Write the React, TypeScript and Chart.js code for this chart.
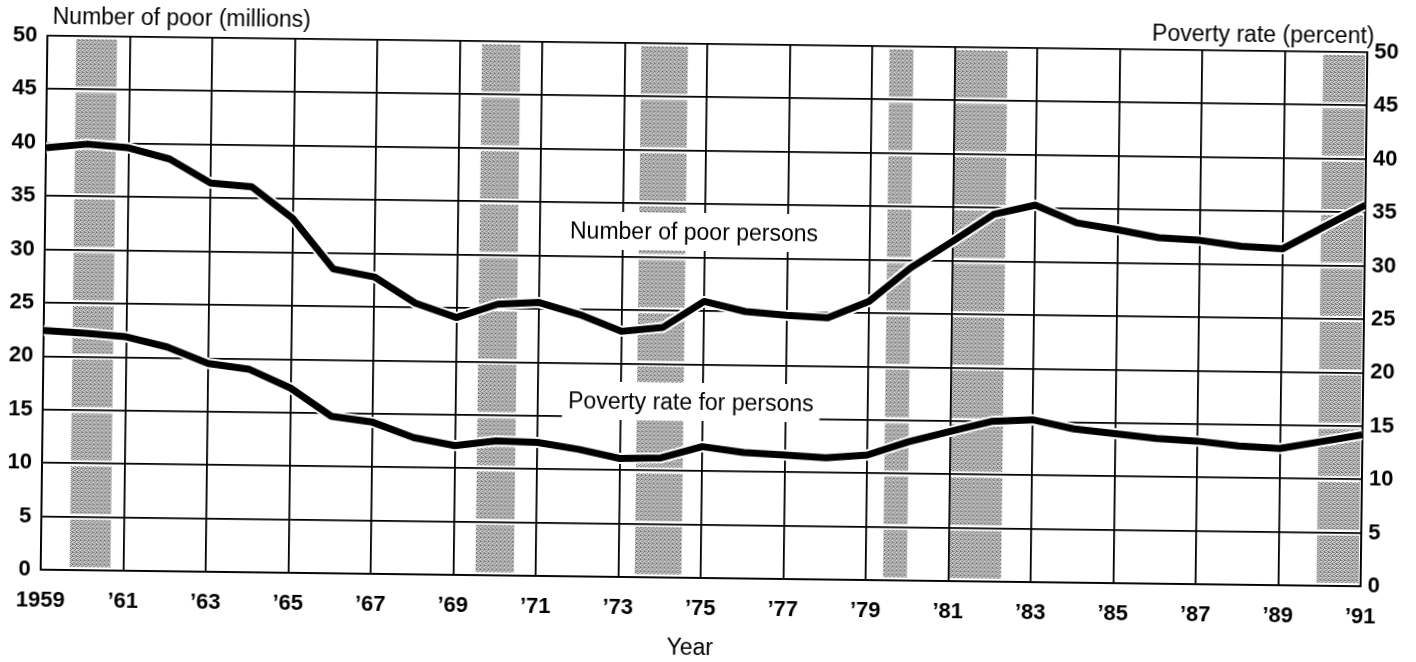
import React, { useEffect, useRef } from 'react';
import { Chart, registerables } from 'chart.js';

Chart.register(...registerables);

// ---------- data ----------
const years = [
  1959, 1960, 1961, 1962, 1963, 1964, 1965, 1966, 1967, 1968, 1969,
  1970, 1971, 1972, 1973, 1974, 1975, 1976, 1977, 1978, 1979,
  1980, 1981, 1982, 1983, 1984, 1985, 1986, 1987, 1988, 1989, 1990, 1991,
];

// Number of poor persons (millions) – left axis
const poorMillions = [
  39.5, 39.9, 39.6, 38.6, 36.4, 36.1, 33.2, 28.5, 27.8, 25.4, 24.1,
  25.4, 25.6, 24.5, 23.0, 23.4, 25.9, 25.0, 24.7, 24.5, 26.1,
  29.3, 31.8, 34.4, 35.3, 33.7, 33.1, 32.4, 32.2, 31.7, 31.5, 33.6, 35.7,
];

// Poverty rate for persons (percent) – right axis
const povertyRatePct = [
  22.4, 22.2, 21.9, 21.0, 19.5, 19.0, 17.3, 14.7, 14.2, 12.8, 12.1,
  12.6, 12.5, 11.9, 11.1, 11.2, 12.3, 11.8, 11.6, 11.4, 11.7,
  13.0, 14.0, 15.0, 15.2, 14.4, 14.0, 13.6, 13.4, 13.0, 12.8, 13.5, 14.2,
];

// Shaded recession periods (start, end) in year units as drawn
const recessionStart = [1959.7, 1969.54, 1973.4, 1979.42, 1981.01, 1989.93];
const recessionEnd = [1960.69, 1970.47, 1974.53, 1980.0, 1982.28, 1991.0];

const xTickLabels = [
  '1959', '\u201961', '\u201963', '\u201965', '\u201967', '\u201969', '\u201971', '\u201973', '\u201975',
  '\u201977', '\u201979', '\u201981', '\u201983', '\u201985', '\u201987', '\u201989', '\u201991',
];
const yTickValues = [0, 5, 10, 15, 20, 25, 30, 35, 40, 45, 50];

const leftTitle = 'Number of poor (millions)';
const rightTitle = 'Poverty rate (percent)';
const poorLabel = 'Number of poor persons';
const rateLabel = 'Poverty rate for persons';
const xTitle = 'Year';

const FONT = "'Liberation Sans', Arial, Helvetica, sans-serif";

function makePattern(): CanvasPattern | string {
  const pc = document.createElement('canvas');
  pc.width = 4;
  pc.height = 4;
  const p = pc.getContext('2d');
  if (!p) return '#b4b4b4';
  p.fillStyle = '#d4d4d4';
  p.fillRect(0, 0, 4, 4);
  p.fillStyle = '#6e6e6e';
  p.fillRect(0, 0, 1, 1);
  p.fillRect(2, 1, 1, 1);
  p.fillRect(1, 2, 1, 1);
  p.fillRect(3, 3, 1, 1);
  p.fillRect(3, 0, 1, 1);
  p.fillStyle = '#959595';
  p.fillRect(2, 3, 1, 1);
  p.fillRect(0, 2, 1, 1);
  p.fillRect(1, 0, 1, 1);
  const pat = p.createPattern(pc, 'repeat');
  return pat || '#b4b4b4';
}

export default function App() {
  const canvasRef = useRef<HTMLCanvasElement | null>(null);

  useEffect(() => {
    document.body.style.margin = '0';
    const canvas = canvasRef.current;
    if (!canvas) return;
    const pattern = makePattern();

    const bandsPlugin = {
      id: 'recessionBands',
      beforeDraw(chart: any) {
        const { ctx, chartArea, scales } = chart;
        const x = scales.x;
        const y = scales.y;
        ctx.save();
        ctx.fillStyle = '#ffffff';
        ctx.fillRect(0, 0, chart.width, chart.height);
        ctx.fillStyle = pattern;
        const gap = 3;
        for (let i = 0; i < recessionStart.length; i++) {
          const x0 = x.getPixelForValue(recessionStart[i]);
          const x1 = Math.min(x.getPixelForValue(recessionEnd[i]), chartArea.right - 2);
          for (let k = 0; k < yTickValues.length - 1; k++) {
            const yb = y.getPixelForValue(yTickValues[k]) - gap;
            const yt = y.getPixelForValue(yTickValues[k + 1]) + gap;
            ctx.fillRect(x0, yt, x1 - x0, yb - yt);
          }
        }
        ctx.restore();
      },
    };

    const textPlugin = {
      id: 'annotText',
      beforeDatasetsDraw(chart: any) {
        const { ctx } = chart;
        ctx.save();
        ctx.font = `23px ${FONT}`;
        ctx.textBaseline = 'alphabetic';
        const inner = [
          { t: poorLabel, cx: 693, by: 240 },
          { t: rateLabel, cx: 692, by: 410 },
        ];
        for (const l of inner) {
          const w = ctx.measureText(l.t).width;
          ctx.fillStyle = '#ffffff';
          ctx.fillRect(l.cx - w / 2 - 6, l.by - 27, w + 12, 38);
          ctx.fillStyle = '#000000';
          ctx.textAlign = 'center';
          ctx.fillText(l.t, l.cx, l.by);
        }
        ctx.fillStyle = '#000000';
        ctx.textAlign = 'left';
        ctx.fillText(leftTitle, 49, 32);
        ctx.textAlign = 'right';
        ctx.fillText(rightTitle, 1371, 35);
        ctx.textAlign = 'center';
        ctx.fillText(xTitle, 694, 655);
        ctx.restore();
      },
    };

    const poorPts = years.map((yr, i) => ({ x: yr, y: poorMillions[i] }));
    const ratePts = years.map((yr, i) => ({ x: yr, y: povertyRatePct[i] }));

    const lineBase = {
      tension: 0,
      pointRadius: 0,
      pointHoverRadius: 0,
      fill: false,
      borderJoinStyle: 'round' as const,
    };

    const gridStyle = { color: '#000000', lineWidth: 1.8, drawTicks: false };
    const tickFont = { family: FONT, size: 22, weight: 'bold' as const };

    const chart = new Chart(canvas, {
      type: 'line',
      data: {
        datasets: [
          { ...lineBase, label: 'halo1', data: poorPts, yAxisID: 'y', borderColor: '#ffffff', borderWidth: 11, order: 3 },
          { ...lineBase, label: 'halo2', data: ratePts, yAxisID: 'y1', borderColor: '#ffffff', borderWidth: 11, order: 3 },
          { ...lineBase, label: poorLabel, data: poorPts, yAxisID: 'y', borderColor: '#000000', borderWidth: 7, order: 1 },
          { ...lineBase, label: rateLabel, data: ratePts, yAxisID: 'y1', borderColor: '#000000', borderWidth: 7, order: 1 },
        ],
      },
      options: {
        animation: false,
        responsive: false,
        devicePixelRatio: 1,
        events: [],
        layout: { padding: { top: 44, left: 0, right: 0, bottom: 0 } },
        plugins: {
          legend: { display: false },
          tooltip: { enabled: false },
        },
        scales: {
          x: {
            type: 'linear',
            min: 1959,
            max: 1991,
            grid: gridStyle,
            border: { display: true, color: '#000000', width: 1.8 },
            ticks: {
              stepSize: 2,
              autoSkip: false,
              maxRotation: 0,
              padding: 18,
              color: '#000000',
              font: tickFont,
              callback: (_v: any, idx: number) => xTickLabels[idx] ?? '',
            },
            afterFit: (s: any) => {
              s.height = 84;
            },
          },
          y: {
            type: 'linear',
            position: 'left',
            min: 0,
            max: 50,
            grid: gridStyle,
            border: { display: true, color: '#000000', width: 1.8 },
            ticks: {
              stepSize: 5,
              padding: 10,
              color: '#000000',
              font: tickFont,
            },
            afterFit: (s: any) => {
              s.width = 44;
            },
          },
          y1: {
            type: 'linear',
            position: 'right',
            min: 0,
            max: 50,
            grid: { drawOnChartArea: false, drawTicks: false },
            border: { display: true, color: '#000000', width: 1.8 },
            ticks: {
              stepSize: 5,
              padding: 7,
              color: '#000000',
              font: tickFont,
            },
            afterFit: (s: any) => {
              s.width = 52;
            },
          },
        },
      },
      plugins: [bandsPlugin, textPlugin],
    });

    return () => {
      chart.destroy();
    };
  }, []);

  return (
    <div style={{ width: 1416, height: 662, overflow: 'hidden', background: '#ffffff' }}>
      <canvas
        ref={canvasRef}
        width={1416}
        height={662}
        style={{
          display: 'block',
          width: 1416,
          height: 662,
          transform: 'rotate(0.72deg)',
          transformOrigin: '704px 311px',
        }}
      />
    </div>
  );
}
